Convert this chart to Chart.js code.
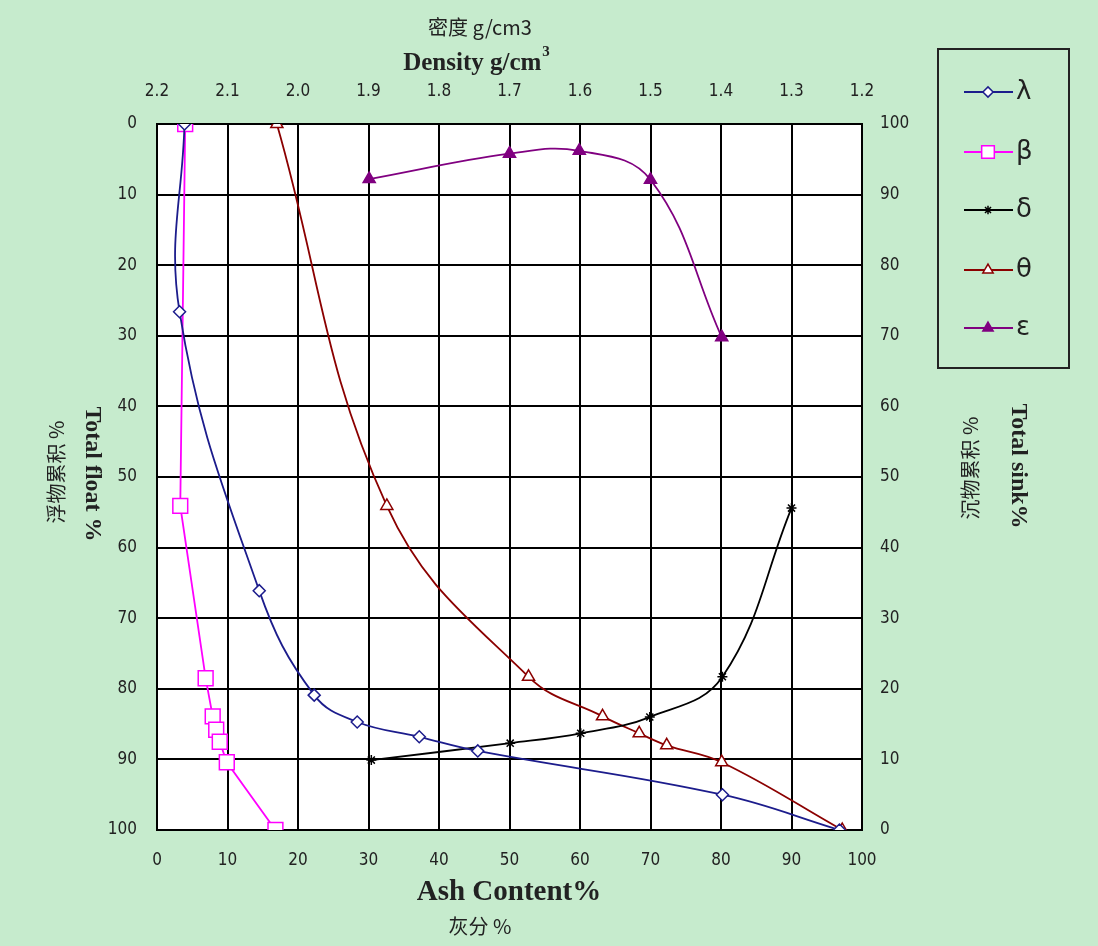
<!DOCTYPE html>
<html>
<head>
<meta charset="utf-8">
<script src="https://cdn.jsdelivr.net/npm/chart.js@4"></script>
<style>
  html, body { margin: 0; padding: 0; background: #c6ebcd; }
  #wrap { width: 1098px; height: 946px; }
</style>
</head>
<body>
<div id="wrap"><canvas id="grafico" width="1098" height="946"></canvas></div>
<script>
// eixos
const ashTicks = [0, 10, 20, 30, 40, 50, 60, 70, 80, 90, 100];
const densityLabels = ['2.2', '2.1', '2.0', '1.9', '1.8', '1.7', '1.6', '1.5', '1.4', '1.3', '1.2'];
const seriesNames = ['λ', 'β', 'δ', 'θ', 'ε'];

// λ - float (eixo esquerdo)
const lambdaAsh = [3.9, 3.2, 14.5, 22.3, 28.4, 37.2, 45.5, 80.2, 96.8];
const lambdaFloat = [0, 26.6, 66.1, 80.9, 84.7, 86.8, 88.8, 95.0, 100];

// β - float (eixo esquerdo)
const betaAsh = [4.0, 3.3, 6.9, 7.9, 8.4, 8.9, 9.9, 16.8];
const betaFloat = [0, 54.1, 78.5, 83.9, 85.8, 87.5, 90.4, 100];

// δ - sink (eixo direito)
const deltaAsh = [30.4, 50.1, 60.1, 69.9, 80.2, 90.0];
const deltaSink = [9.9, 12.3, 13.7, 16.0, 21.7, 45.6];

// θ - sink (eixo direito)
const thetaAsh = [17.0, 32.6, 52.7, 63.2, 68.4, 72.3, 80.1, 97.2];
const thetaSink = [100, 45.9, 21.7, 16.1, 13.7, 12.0, 9.6, 0];

// ε - sink (eixo direito)
const epsAsh = [30.1, 50.0, 59.9, 70.0, 80.1];
const epsSink = [92.2, 95.8, 96.2, 92.1, 69.8];

const pts = (xs, ys) => xs.map((x, i) => ({ x: x, y: ys[i] }));

const BG = '#c6ebcd';
const tickFont = { family: "'DejaVu Sans Condensed', 'Liberation Sans Narrow', 'Liberation Sans', sans-serif", size: 17 };

const fundo = {
  id: 'fundo',
  beforeDraw(chart) {
    const { ctx, chartArea: a } = chart;
    ctx.save();
    ctx.fillStyle = BG;
    ctx.fillRect(0, 0, chart.width, chart.height);
    ctx.fillStyle = '#ffffff';
    ctx.fillRect(a.left, a.top, a.right - a.left, a.bottom - a.top);
    ctx.restore();
  }
};

const titulos = {
  id: 'titulos',
  afterDraw(chart) {
    const ctx = chart.ctx;
    const cjk = "'Noto Sans CJK SC', 'Noto Sans CJK JP', sans-serif";
    const serif = "'Liberation Serif', 'DejaVu Serif', serif";
    ctx.save();
    ctx.fillStyle = '#222';
    ctx.textAlign = 'center';
    ctx.textBaseline = 'middle';

    ctx.font = '20px ' + cjk;
    ctx.fillText('密度 g/cm3', 480, 27);

    // Density g/cm3 com expoente
    ctx.font = 'bold 25px ' + serif;
    const base = 'Density g/cm';
    const w = ctx.measureText(base).width;
    ctx.font = 'bold 15px ' + serif;
    const w3 = ctx.measureText('3').width;
    const x0 = 476 - (w + w3) / 2;
    ctx.textAlign = 'left';
    ctx.font = 'bold 25px ' + serif;
    ctx.fillText(base, x0, 64);
    ctx.font = 'bold 15px ' + serif;
    ctx.fillText('3', x0 + w + 1, 52);

    ctx.textAlign = 'center';
    ctx.font = 'bold 29px ' + serif;
    ctx.fillText('Ash Content%', 509, 893);
    ctx.font = '20px ' + cjk;
    ctx.fillText('灰分 %', 480, 926);

    // esquerda
    ctx.save();
    ctx.translate(56, 472);
    ctx.rotate(-Math.PI / 2);
    ctx.font = '20px ' + cjk;
    ctx.fillText('浮物累积 %', 0, 0);
    ctx.restore();

    ctx.save();
    ctx.translate(92, 474);
    ctx.rotate(Math.PI / 2);
    ctx.font = 'bold 24px ' + serif;
    ctx.fillText('Total float %', 0, 0);
    ctx.restore();

    // direita
    ctx.save();
    ctx.translate(970, 468);
    ctx.rotate(-Math.PI / 2);
    ctx.font = '20px ' + cjk;
    ctx.fillText('沉物累积 %', 0, 0);
    ctx.restore();

    ctx.save();
    ctx.translate(1018, 466);
    ctx.rotate(Math.PI / 2);
    ctx.font = 'bold 24px ' + serif;
    ctx.fillText('Total sink%', 0, 0);
    ctx.restore();

    ctx.restore();
  }
};

const legenda = {
  id: 'legenda',
  afterDraw(chart) {
    const ctx = chart.ctx;
    ctx.save();
    ctx.strokeStyle = '#222';
    ctx.lineWidth = 2;
    ctx.strokeRect(938, 49, 131, 319);
    const rows = [92, 152, 210, 270, 328];
    chart.data.datasets.forEach((ds, i) => {
      const y = rows[i];
      ctx.strokeStyle = ds.borderColor;
      ctx.lineWidth = 1.8;
      ctx.beginPath();
      ctx.moveTo(964, y);
      ctx.lineTo(1013, y);
      ctx.stroke();
      ctx.fillStyle = ds.pointBackgroundColor;
      ctx.strokeStyle = ds.borderColor;
      ctx.lineWidth = 1.5;
      Chart.helpers.drawPoint(ctx, { pointStyle: ds.pointStyle, radius: ds.pointRadius * 0.85, rotation: 0, borderWidth: 1.5 }, 988, y);
      ctx.fillStyle = '#222';
      ctx.font = "26px 'DejaVu Sans', sans-serif";
      ctx.textAlign = 'left';
      ctx.textBaseline = 'middle';
      ctx.fillText(ds.label, 1016, y);
    });
    ctx.restore();
  }
};

const serie = (label, data, cor, estilo, raio, fundoPonto, eixo, tensao) => ({
  label: label,
  data: data,
  yAxisID: eixo,
  xAxisID: 'x',
  showLine: true,
  tension: tensao,
  borderColor: cor,
  borderWidth: 1.8,
  pointStyle: estilo,
  pointRadius: raio,
  pointBackgroundColor: fundoPonto,
  pointBorderColor: cor,
  pointBorderWidth: 1.5
});

const grade = { color: '#000', lineWidth: 2, drawTicks: false };

new Chart(document.getElementById('grafico').getContext('2d'), {
  type: 'scatter',
  data: {
    datasets: [
      serie(seriesNames[0], pts(lambdaAsh, lambdaFloat), '#1c1c8c', 'rectRot', 6, '#ffffff', 'y', 0.4),
      serie(seriesNames[1], pts(betaAsh, betaFloat), '#ff00ff', 'rect', 10.5, '#ffffff', 'y', 0),
      serie(seriesNames[2], pts(deltaAsh, deltaSink), '#000000', 'star', 5, '#000000', 'y2', 0.4),
      serie(seriesNames[3], pts(thetaAsh, thetaSink), '#8b0000', 'triangle', 7, '#ffffff', 'y2', 0.4),
      serie(seriesNames[4], pts(epsAsh, epsSink), '#800080', 'triangle', 7, '#800080', 'y2', 0.4)
    ]
  },
  options: {
    responsive: false,
    animation: false,
    layout: { padding: 0 },
    plugins: {
      legend: { display: false },
      tooltip: { enabled: false }
    },
    scales: {
      x: {
        type: 'linear', position: 'bottom', min: 0, max: 100,
        afterBuildTicks: s => { s.ticks = ashTicks.map(v => ({ value: v })); },
        afterFit: s => { s.height = 116; },
        grid: grade,
        border: { display: true, color: '#000', width: 2 },
        ticks: { font: tickFont, color: '#222', padding: 20, maxRotation: 0 }
      },
      x2: {
        type: 'linear', position: 'top', min: 0, max: 100,
        afterBuildTicks: s => { s.ticks = ashTicks.map(v => ({ value: v })); },
        afterFit: s => { s.height = 124; },
        grid: { display: false, drawTicks: false },
        border: { display: true, color: '#000', width: 2 },
        ticks: { font: tickFont, color: '#222', padding: 22, maxRotation: 0,
          callback: (v, i) => densityLabels[i] }
      },
      y: {
        type: 'linear', position: 'left', reverse: true, min: 0, max: 100,
        afterBuildTicks: s => { s.ticks = ashTicks.map(v => ({ value: v })); },
        afterFit: s => { s.width = 157; },
        grid: grade,
        border: { display: true, color: '#000', width: 2 },
        ticks: { font: tickFont, color: '#222', padding: 20 }
      },
      y2: {
        type: 'linear', position: 'right', min: 0, max: 100,
        afterBuildTicks: s => { s.ticks = ashTicks.map(v => ({ value: v })); },
        afterFit: s => { s.width = 236; },
        grid: { display: false, drawTicks: false },
        border: { display: true, color: '#000', width: 2 },
        ticks: { font: tickFont, color: '#222', padding: 18 }
      }
    }
  },
  plugins: [fundo, titulos, legenda]
});
</script>
</body>
</html>
